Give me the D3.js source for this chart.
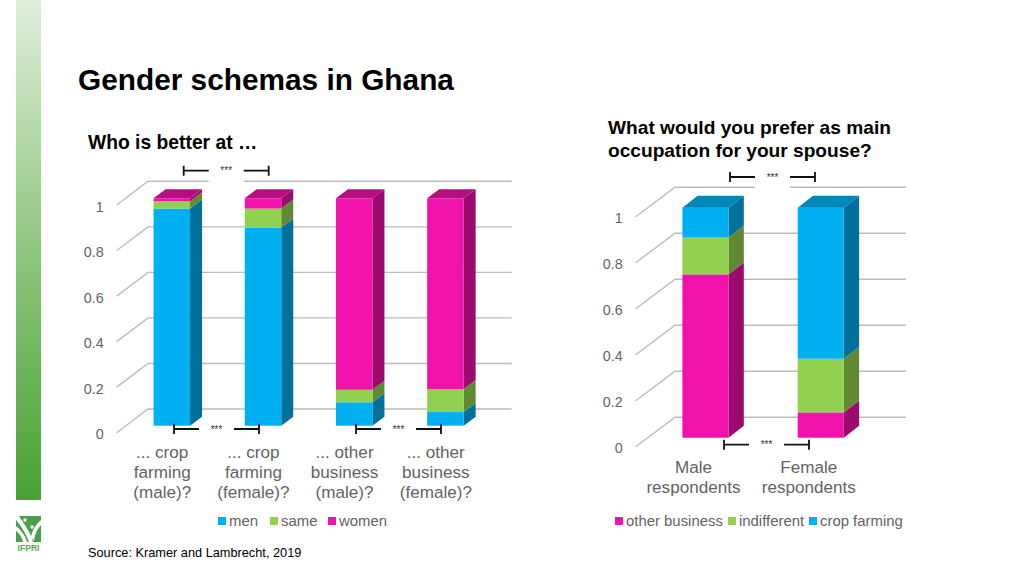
<!DOCTYPE html>
<html><head><meta charset="utf-8">
<script src="https://cdn.jsdelivr.net/npm/d3@7"></script>
<style>html,body{margin:0;padding:0;background:#fff}svg{display:block}text{font-family:"Liberation Sans",Arial,sans-serif}</style>
</head><body><svg id="c" width="1024" height="576"></svg>
<script>
const yTicks=[0,0.2,0.4,0.6,0.8,1];
const leftCategories=["... crop|farming|(male)?","... crop|farming|(female)?","... other|business|(male)?","... other|business|(female)?"];
const leftSeriesNames=["men","same","women"];
const menValues=[0.955,0.87,0.103,0.06];
const sameValues=[0.032,0.085,0.055,0.101];
const womenValues=[0.013,0.045,0.842,0.839];
const rightCategories=["Male|respondents","Female|respondents"];
const rightSeriesNames=["other business","indifferent","crop farming"];
const otherBusinessValues=[0.71,0.11];
const indifferentValues=[0.16,0.233];
const cropFarmingValues=[0.13,0.657];
const palette={pink:{f:"#f012ab",s:"#9c0a6e",t:"#b50e80"},green:{f:"#92d14f",s:"#5f8a33",t:"#6e9c3c"},blue:{f:"#00b0f0",s:"#00709c",t:"#0086b8"}};

const svg=d3.select("#c");
const defs=svg.append("defs");
const g=defs.append("linearGradient").attr("id","side").attr("x1",0).attr("y1",0).attr("x2",0).attr("y2",1);
g.append("stop").attr("offset",0).attr("stop-color","#dff0da");
g.append("stop").attr("offset",0.5).attr("stop-color","#8fc67f");
g.append("stop").attr("offset",1).attr("stop-color","#48a232");
svg.append("rect").attr("x",16).attr("y",0).attr("width",25).attr("height",500).attr("fill","url(#side)");

// logo
const logo=svg.append("g");
logo.append("rect").attr("x",16).attr("y",516).attr("width",25).attr("height",26).attr("fill","#4aa04a");
logo.append("path").attr("d","M19 516 C24 524 30 531 33 542 L29 542 C26 534 22 527 16 520V516Z M41 520 C35 525 32 531 31 537 L34 541 C35 533 38 528 41 525Z M16 526 C21 530 25 535 27 542 L23 542 C22 537 19 533 16 531Z").attr("fill","#fff");
logo.append("circle").attr("cx",25).attr("cy",520).attr("r",1.7).attr("fill","#fff");
logo.append("circle").attr("cx",32).attr("cy",527).attr("r",1.7).attr("fill","#fff");
logo.append("text").attr("x",28.5).attr("y",551).attr("text-anchor","middle").attr("font-size",8.6).attr("font-weight","bold").attr("fill","#5aa55a").text("IFPRI");

const T=(x,y,s,size,opt={})=>svg.append("text").attr("x",x).attr("y",y).attr("font-size",size).attr("font-weight",opt.w||"normal").attr("fill",opt.c||"#000").attr("text-anchor",opt.a||"start").text(s);
T(78,90,"Gender schemas in Ghana",29.8,{w:"bold"});
T(88,149,"Who is better at …",19.3,{w:"bold"});
T(608,134,"What would you prefer as main",19.15,{w:"bold"});
T(608,157,"occupation for your spouse?",19.15,{w:"bold"});
T(88,557,"Source: Kramer and Lambrecht, 2019",12.75);

function chart(o){
  const gc=svg.append("g");
  const yF=d3.scaleLinear().domain([0,1]).range([o.bottom,o.top]);
  const yB=d3.scaleLinear().domain([0,1]).range([o.bottom-o.wallDy,o.top-o.wallDy]);
  const yBar=d3.scaleLinear().domain([0,1]).range([o.barBottom,o.barTop]);
  const x=d3.scaleBand().domain(o.categories).range(o.xRange).paddingInner(o.pad).paddingOuter(o.pad/2);
  yTicks.forEach(t=>{
    gc.append("path").attr("d",`M${o.axisX} ${yF(t)}L${o.axisX+o.wallDx} ${yB(t)}H${o.gridEnd}`).attr("fill","none").attr("stroke","#bcbcbc").attr("stroke-width",1.4);
  });
  const ax=gc.append("g").attr("transform",`translate(${o.axisX},1.5)`).call(d3.axisLeft(yF).tickValues(yTicks).tickFormat(d3.format("~g")).tickSize(0).tickPadding(13));
  ax.select(".domain").remove();
  ax.selectAll("text").attr("font-size",14.3).attr("fill","#636363").attr("font-family",'"Liberation Sans",Arial,sans-serif');
  const stack=d3.stack().keys(o.names.map((_,i)=>i)).value((d,k)=>o.values[k][d])(o.categories.map((_,i)=>i));
  const bw=x.bandwidth(),dx=o.dx,dy=o.dy;
  o.categories.forEach((c,ci)=>{
    const b=gc.append("g");
    const x0=x(c),x1=x0+bw;
    stack.forEach((s,k)=>{
      const y0=yBar(s[ci][0]),y1=yBar(s[ci][1]),col=o.colors[k];
      b.append("path").attr("d",`M${x1} ${y0}L${x1+dx} ${y0-dy}V${y1-dy}L${x1} ${y1}Z`).attr("fill",col.s);
      b.append("rect").attr("x",x0).attr("y",y1).attr("width",bw).attr("height",y0-y1).attr("fill",col.f);
    });
    const yt=yBar(1),top=o.colors[o.colors.length-1];
    b.append("path").attr("d",`M${x0} ${yt}L${x0+dx} ${yt-dy}H${x1+dx}L${x1} ${yt}Z`).attr("fill",top.t);
  });
  o.brackets.forEach(([a,yy,wipe])=>{
    const gp=25,w=85;
    if(wipe) gc.append("rect").attr("x",a+gp).attr("y",yy+6).attr("width",w-2*gp).attr("height",8).attr("fill","#fff");
    gc.append("path").attr("d",`M${a} ${yy-5}V${yy+5}M${a} ${yy}H${a+gp}M${a+w-gp} ${yy}H${a+w}M${a+w} ${yy-5}V${yy+5}`).attr("fill","none").attr("stroke","#111").attr("stroke-width",1.8);
    gc.append("text").attr("x",a+w/2).attr("y",yy+3.5).attr("text-anchor","middle").attr("font-size",10).attr("fill","#333").text("***");
  });
  o.categories.forEach(c=>{
    c.split("|").forEach((l,i)=>{
      gc.append("text").attr("x",x(c)+bw/2+o.labelShift).attr("y",o.labelY+i*19.7).attr("text-anchor","middle").attr("font-size",17.1).attr("fill","#636363").text(l);
    });
  });
  o.names.forEach((n,i)=>{
    gc.append("rect").attr("x",o.legendX[i]).attr("y",517).attr("width",8).attr("height",8).attr("fill",o.colors[i].f);
    gc.append("text").attr("x",o.legendX[i]+11).attr("y",526).attr("font-size",14.9).attr("fill","#636363").text(n);
  });
}
chart({categories:leftCategories,names:leftSeriesNames,values:[menValues,sameValues,womenValues],
  colors:[palette.blue,palette.green,palette.pink],
  top:205,bottom:432.7,wallDy:23.7,axisX:116.7,wallDx:31.3,gridEnd:511.6,
  barTop:198.3,barBottom:425.7,xRange:[126.2,491],pad:0.6,dx:12,dy:9,
  brackets:[[183.7,170.7,true],[174,429,false],[356,429,false]],labelShift:-9.6,labelY:458.3,legendX:[218,270,328]});
chart({categories:rightCategories,names:rightSeriesNames,values:[otherBusinessValues,indifferentValues,cropFarmingValues],
  colors:[palette.pink,palette.green,palette.blue],
  top:216.7,bottom:446.7,wallDy:29.5,axisX:635.7,wallDx:39.3,gridEnd:906,
  barTop:207.7,barBottom:437.7,xRange:[647.8,878.4],pad:0.6,dx:15.3,dy:12,
  brackets:[[730,177,true],[724,444.7,false]],labelShift:-12,labelY:473,legendX:[615,728,809]});
</script></body></html>
